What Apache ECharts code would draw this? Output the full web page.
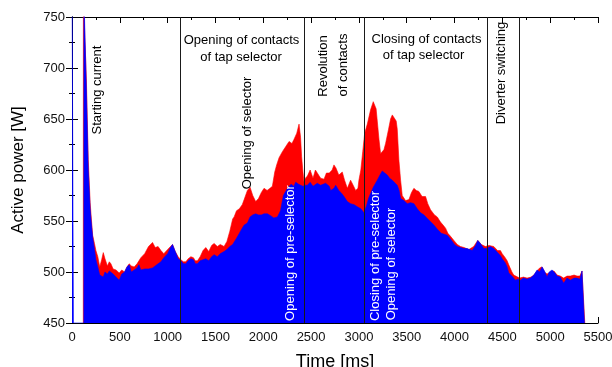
<!DOCTYPE html>
<html>
<head>
<meta charset="utf-8">
<script src="https://cdn.jsdelivr.net/npm/echarts@6/dist/echarts.min.js"></script>
<style>html,body{margin:0;padding:0;background:#fff}#c{width:612px;height:367px}</style>
</head>
<body>
<div id="c"></div>
<script>
// ---- data (time [ms], active power [W]) ----
var redTimes = [118,119,150,170,190,200,216,235,250,270,290,310,327,345,370,390,407,430,460,494,520,550,575,598,620,650,680,700,720,760,800,842,870,900,930,960,1000,1030,1051,1080,1110,1138,1165,1190,1215,1243,1270,1290,1312,1340,1370,1399,1430,1460,1486,1520,1550,1590,1620,1650,1680,1695,1720,1750,1780,1800,1834,1862,1890,1921,1950,1980,2008,2040,2070,2095,2120,2140,2165,2200,2235,2270,2300,2321,2350,2374,2390,2401,2415,2426,2440,2461,2490,2520,2545,2565,2600,2635,2660,2690,2720,2739,2760,2790,2826,2850,2879,2913,2940,2966,2990,3000,3020,3040,3060,3088,3122,3150,3164,3180,3192,3210,3227,3244,3262,3279,3310,3331,3349,3366,3390,3401,3418,3436,3453,3488,3523,3550,3575,3600,3627,3660,3697,3720,3749,3790,3819,3853,3880,3906,3930,3958,3993,4028,4062,4100,4149,4200,4243,4280,4323,4360,4410,4450,4480,4498,4530,4550,4567,4600,4619,4637,4680,4720,4758,4800,4830,4863,4890,4915,4940,4967,5002,5040,5072,5106,5141,5176,5211,5250,5281,5310,5333,5350,5362];
var redPower = [450,770,690,610,568,555,536,528,521,515,505,512,519,513,506,510,508,503,502,499,502,500,505,508,506,505,508,511,514,518,525,529,524,525,521,518,522,525,527,520,515,512,510,510,513,515,514,511,511,515,521,524,520,526,528,525,527,525,530,540,552,554,560,562,566,571,580,583,575,569,572,578,582,580,582,584,598,605,612,618,623,628,626,630,636,645,632,613,598,588,592,594,600,592,600,599,592,591,597,597,600,605,602,595,598,590,582,590,585,580,582,590,600,618,636,645,659,667,668,660,648,630,616,615,620,626,640,650,654,654,648,640,610,590,575,570,571,578,582,580,579,574,574,567,561,556,554,549,546,543,538,535,531,527,525,524,522,525,531,527,525,526,525,521,521,518,514,511,507,500,497,496,494,495,494,495,497,501,504,505,500,498,500,501,497,496,494,496,496,497,496,496,501,500,450];

var blueTimes = [0,14,15,124,125,150,170,190,200,216,235,250,270,290,310,327,345,370,390,407,430,460,494,520,550,575,598,620,650,680,700,720,760,800,842,870,900,930,960,1000,1030,1051,1080,1110,1138,1165,1190,1215,1243,1270,1290,1312,1340,1370,1399,1430,1460,1486,1520,1550,1590,1620,1650,1680,1695,1720,1750,1780,1800,1834,1862,1890,1921,1950,1980,2008,2044,2080,2110,2148,2180,2210,2253,2290,2320,2339,2370,2391,2415,2440,2461,2490,2520,2565,2600,2652,2690,2705,2739,2757,2790,2820,2844,2879,2913,2950,2983,3020,3053,3080,3100,3122,3150,3192,3220,3244,3270,3297,3320,3349,3380,3401,3420,3436,3470,3506,3540,3575,3610,3645,3680,3720,3784,3820,3860,3923,3960,4000,4028,4062,4100,4132,4184,4220,4243,4270,4306,4340,4375,4410,4450,4480,4498,4530,4550,4567,4600,4619,4637,4660,4689,4720,4758,4793,4830,4863,4890,4915,4940,4967,4990,5020,5050,5072,5106,5141,5176,5211,5250,5281,5310,5333,5350,5358];
var bluePower = [800,800,450,450,770,680,600,562,550,534,522,512,505,497,496,495,500,498,501,500,498,495,492,498,500,505,507,500,502,504,507,502,503,503,504,506,508,510,514,518,524,527,520,513,511,508,508,511,513,512,508,508,511,512,513,511,515,517,515,518,520,522,525,527,528,533,538,543,546,548,554,556,557,556,556,557,557,555,553,554,560,575,582,586,584,588,586,585,584,585,585,588,584,587,585,587,584,580,582,585,580,577,574,569,567,566,564,562,558,565,572,577,583,590,595,599,597,595,592,590,587,585,580,572,570,567,568,567,562,558,556,552,546,542,538,536,532,527,525,524,523,523,521,526,531,528,523,523,525,523,519,516,513,509,505,499,496,495,492,493,492,494,493,494,497,502,500,505,501,495,500,502,499,496,495,489,494,492,494,494,493,501,500,450];

var eventTimes = [1127, 2429, 3059, 4343, 4680];
var xTicks = {min: 0, max: 5500, interval: 500};
var yTicks = {min: 450, max: 750, interval: 50};

function pairs(t, v) { return t.map(function (x, i) { return [x, v[i]]; }); }

var chart = echarts.init(document.getElementById('c'));
var FONT = 'Liberation Sans, Arial, sans-serif';
var axisCommon = {
  type: 'value',
  axisLine: {show: true, lineStyle: {color: '#000', width: 1}},
  axisTick: {show: true, inside: true, length: 6, lineStyle: {color: '#000'}},
  minorTick: {show: true, splitNumber: 2, length: 3, lineStyle: {color: '#000'}},
  splitLine: {show: false},
  minorSplitLine: {show: false}
};
function ax(extra) { return Object.assign({}, axisCommon, extra); }
function plain(v) { return String(v); }

var rotTexts = [
  {t: 'Starting current', x: 97, y: 90, c: '#000'},
  {t: 'Opening of selector', x: 247, y: 133, c: '#000'},
  {t: 'Revolution', x: 323, y: 66, c: '#000'},
  {t: 'of contacts', x: 343, y: 65, c: '#000'},
  {t: 'Diverter switching', x: 501.5, y: 73, c: '#000'},
  {t: 'Opening of pre-selector', x: 290, y: 253, c: '#fff'},
  {t: 'Closing of pre-selector', x: 375, y: 256, c: '#fff'},
  {t: 'Opening of selector', x: 391.5, y: 264, c: '#fff'}
];
var flatTexts = [
  {t: 'Opening of contacts', x: 241.5, y: 40},
  {t: 'of tap selector', x: 241, y: 57},
  {t: 'Closing of contacts', x: 426.5, y: 39},
  {t: 'of tap selector', x: 423.5, y: 55}
];
var graphics = [];
rotTexts.forEach(function (o) {
  graphics.push({type: 'text', x: o.x, y: o.y, rotation: Math.PI / 2, z: 100,
    style: {text: o.t, fill: o.c, font: '13px ' + FONT, align: 'center', verticalAlign: 'middle'}});
});
flatTexts.forEach(function (o) {
  graphics.push({type: 'text', x: o.x, y: o.y, z: 100,
    style: {text: o.t, fill: '#000', font: '13px ' + FONT, align: 'center', verticalAlign: 'middle'}});
});

chart.setOption({
  animation: false,
  backgroundColor: '#fff',
  grid: {left: 72, right: 14, top: 17, bottom: 44, containLabel: false, outerBoundsMode: 'none'},
  xAxis: [
    ax({position: 'bottom', min: xTicks.min, max: xTicks.max, interval: xTicks.interval,
      name: 'Time [ms]', nameLocation: 'middle', nameGap: 30,
      nameTextStyle: {fontSize: 18, color: '#000', fontFamily: FONT},
      axisLabel: {fontSize: 13, color: '#111', fontFamily: FONT, margin: 8, formatter: plain}}),
    ax({position: 'top', min: xTicks.min, max: xTicks.max, interval: xTicks.interval, axisLabel: {show: false}})
  ],
  yAxis: [
    ax({position: 'left', min: yTicks.min, max: yTicks.max, interval: yTicks.interval,
      name: 'Active power [W]', nameLocation: 'middle', nameGap: 45,
      nameTextStyle: {fontSize: 17, color: '#000', fontFamily: FONT},
      axisLabel: {fontSize: 13, color: '#111', fontFamily: FONT, margin: 7, formatter: plain}}),
    ax({position: 'right', min: yTicks.min, max: yTicks.max, interval: yTicks.interval, axisLabel: {show: false}})
  ],
  series: [
    {type: 'line', data: pairs(redTimes, redPower), symbol: 'none', clip: true,
      lineStyle: {width: 0.6, color: '#ff0000'}, areaStyle: {color: '#ff0000', opacity: 1, origin: 'start'}, z: 2},
    {type: 'line', data: pairs(blueTimes, bluePower), symbol: 'none', clip: true,
      lineStyle: {width: 0.6, color: '#0000ff'}, areaStyle: {color: '#0000ff', opacity: 1, origin: 'start'}, z: 3,
      markLine: {symbol: 'none', silent: true, animation: false, label: {show: false},
        lineStyle: {color: '#1a1a1a', width: 1, type: 'solid'},
        data: eventTimes.map(function (t) { return {xAxis: t}; })}}
  ],
  graphic: graphics
});
</script>
</body>
</html>
